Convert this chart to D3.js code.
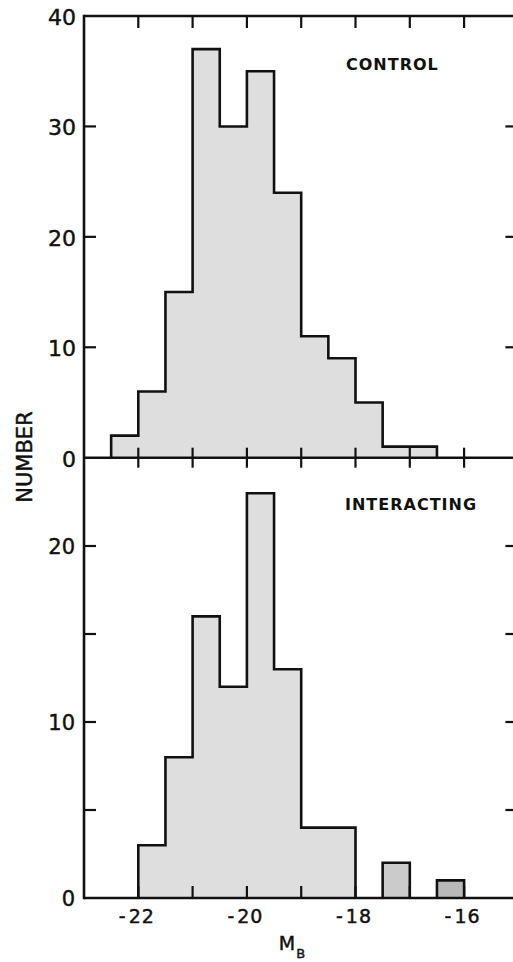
<!DOCTYPE html>
<html>
<head>
<meta charset="utf-8">
<script src="https://cdn.jsdelivr.net/npm/d3@7"></script>
<style>
  html, body { margin: 0; padding: 0; background: #fff; }
  svg { display: block; }
  text { font-family: "DejaVu Sans", sans-serif; fill: #111; }
  .heavy { stroke: #111; stroke-width: 0.45px; }
</style>
</head>
<body>
<svg id="chart" width="513" height="962"></svg>
<script>
// Absolute blue magnitude bins (left edges, 0.5 mag wide)
const binLeft = [-22.5, -22.0, -21.5, -21.0, -20.5, -20.0, -19.5, -19.0, -18.5, -18.0, -17.5, -17.0, -16.5];
const binWidth = 0.5;
const controlCounts     = [2, 6, 15, 37, 30, 35, 24, 11, 9, 5, 1, 1, 0];
const interactingCounts = [0, 3, 8, 16, 12, 23, 13, 4, 4, 0, 2, 0, 1];

const xTicks = [-22, -21, -20, -19, -18, -17, -16];
const xTickLabels = [-22, -20, -18, -16];
const topYTicks = [10, 20, 30];
const topYLabels = [0, 10, 20, 30, 40];
const bottomYTicks = [5, 10, 15, 20];
const bottomYLabels = [0, 10, 20];

const panelNames = ["CONTROL", "INTERACTING"];

const svg = d3.select("#chart");

const x = d3.scaleLinear().domain([-23, -15]).range([84, 518.4]);
const yTop = d3.scaleLinear().domain([0, 40]).range([457.7, 16]);
const yBot = d3.scaleLinear().domain([0, 25]).range([898, 458]);

const ink = "#111";
const frameW = 2.6;

// Split a series into runs of consecutive non-empty bins
function runsOf(counts) {
  const runs = [];
  let cur = null;
  counts.forEach((c, i) => {
    if (c > 0) {
      if (!cur) { cur = []; runs.push(cur); }
      cur.push({ left: binLeft[i], count: c });
    } else cur = null;
  });
  return runs;
}

function drawHistogram(counts, y) {
  const g = svg.append("g");
  runsOf(counts).forEach((run, k) => {
    const last = run[run.length - 1];
    const pts = [{ left: run[0].left, count: 0 }]
      .concat(run)
      .concat([{ left: last.left + binWidth, count: last.count },
               { left: last.left + binWidth, count: 0 }]);
    const area = d3.area().curve(d3.curveStepAfter)
      .x(d => x(d.left)).y0(y(0)).y1(d => y(d.count));
    const line = d3.line().curve(d3.curveStepAfter)
      .x(d => x(d.left)).y(d => y(d.count));
    g.append("path").attr("d", area(pts))
      .attr("fill", k === 0 ? "#dedede" : (k === 1 ? "#cbcbcb" : "#b9b9b9"));
    g.append("path").attr("d", line(pts))
      .attr("fill", "none").attr("stroke", ink).attr("stroke-width", 2.6)
      .attr("stroke-linejoin", "miter");
  });
}

drawHistogram(controlCounts, yTop);
drawHistogram(interactingCounts, yBot);

// Frame lines
const frame = svg.append("g").attr("stroke", ink).attr("stroke-width", frameW).attr("fill", "none");
frame.append("line").attr("x1", x(-23)).attr("x2", x(-15)).attr("y1", yTop(40)).attr("y2", yTop(40));
frame.append("line").attr("x1", x(-23)).attr("x2", x(-15)).attr("y1", yTop(0)).attr("y2", yTop(0));
frame.append("line").attr("x1", x(-23)).attr("x2", x(-15)).attr("y1", yBot(0)).attr("y2", yBot(0));
frame.append("line").attr("x1", x(-23)).attr("x2", x(-23)).attr("y1", yTop(40) - 1.3).attr("y2", yBot(0) + 1.3);
frame.append("line").attr("x1", x(-15)).attr("x2", x(-15)).attr("y1", yTop(40) - 1.3).attr("y2", yBot(0) + 1.3);

// X ticks: inward along the top, crossing the shared middle axis, inward along the bottom
const ticks = svg.append("g").attr("stroke", ink).attr("stroke-width", 2.2);
xTicks.forEach(v => {
  ticks.append("line").attr("x1", x(v)).attr("x2", x(v)).attr("y1", yTop(40)).attr("y2", yTop(40) + 12);
  ticks.append("line").attr("x1", x(v)).attr("x2", x(v)).attr("y1", yTop(0) - 10).attr("y2", yTop(0) + 10);
  ticks.append("line").attr("x1", x(v)).attr("x2", x(v)).attr("y1", yBot(0)).attr("y2", yBot(0) - 12);
});

// Y ticks on both sides
function yTickMarks(vals, y) {
  vals.forEach(v => {
    ticks.append("line").attr("x1", x(-23)).attr("x2", x(-23) + 12).attr("y1", y(v)).attr("y2", y(v));
    ticks.append("line").attr("x1", x(-15)).attr("x2", x(-15) - 13).attr("y1", y(v)).attr("y2", y(v));
  });
}
yTickMarks(topYTicks, yTop);
yTickMarks(bottomYTicks, yBot);

// Y tick labels
topYLabels.forEach(v => {
  svg.append("text").attr("class", "heavy").attr("x", 76).attr("y", yTop(v)).attr("dy", "0.4em")
    .attr("text-anchor", "end").attr("font-size", 22).text(v);
});
bottomYLabels.forEach(v => {
  svg.append("text").attr("class", "heavy").attr("x", 75).attr("y", yBot(v)).attr("dy", "0.4em")
    .attr("text-anchor", "end").attr("font-size", 21).text(v);
});

// X tick labels (minus written as a hyphen, as in the typeset figure)
xTickLabels.forEach(v => {
  const t = svg.append("text").attr("class", "heavy").attr("x", x(v) + 0.5).attr("y", 923)
    .attr("text-anchor", "middle").attr("font-size", 19);
  t.append("tspan").attr("dx", -2).text("-");
  t.append("tspan").attr("dx", 3).attr("letter-spacing", 1).text(String(Math.abs(v)));
});

// Axis titles
svg.append("text").attr("class", "heavy")
  .attr("transform", "translate(32,457) rotate(-90)")
  .attr("text-anchor", "middle").attr("font-size", 21).text("NUMBER");

const mb = svg.append("text").attr("class", "heavy").attr("x", 292).attr("y", 950)
  .attr("text-anchor", "middle").attr("font-size", 19);
mb.append("tspan").text("M");
mb.append("tspan").attr("font-size", 13).attr("dy", 8).attr("dx", 1).text("B");

// Panel labels
svg.append("text").attr("x", 346).attr("y", 70).attr("font-size", 16)
  .attr("font-weight", "bold").attr("letter-spacing", 1).text(panelNames[0]);
svg.append("text").attr("x", 345).attr("y", 510).attr("font-size", 16)
  .attr("font-weight", "bold").attr("letter-spacing", 1).text(panelNames[1]);
</script>
</body>
</html>
